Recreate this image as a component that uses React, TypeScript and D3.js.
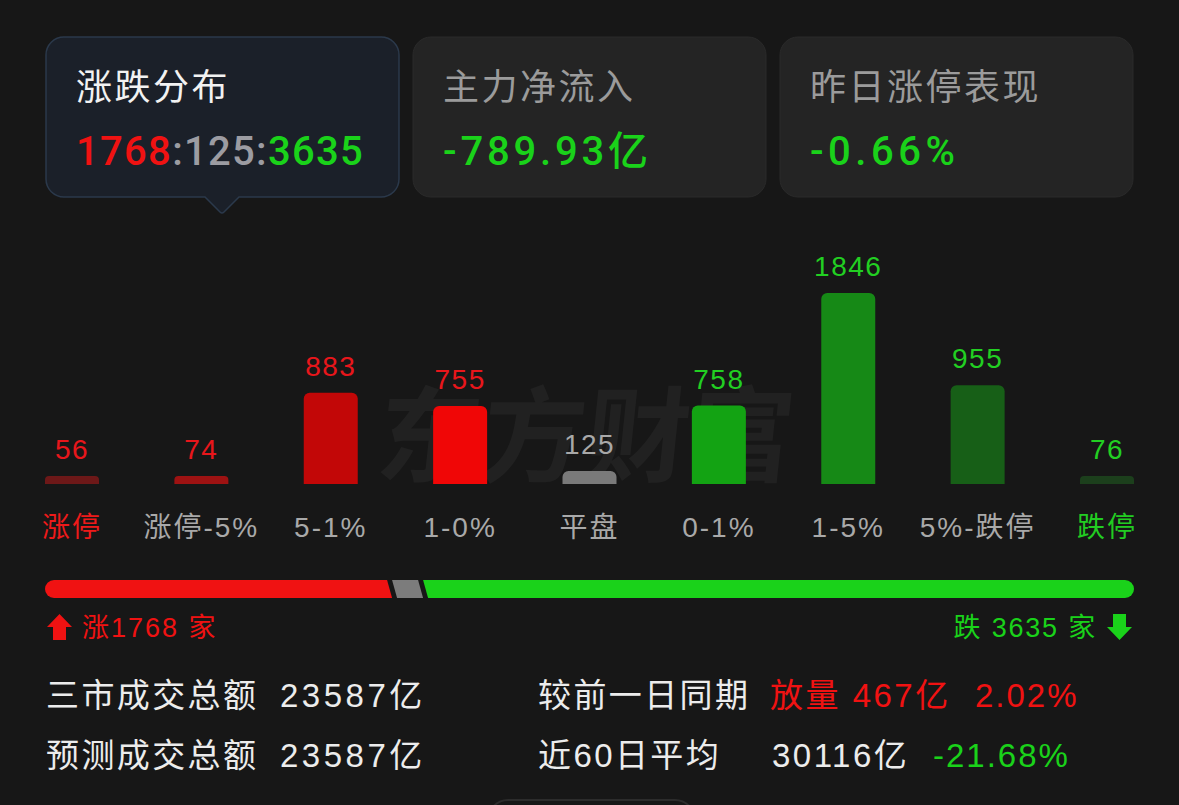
import React from "react";
import * as d3 from "d3";

// ---------- data ----------
const categories = ["涨停", "涨停-5%", "5-1%", "1-0%", "平盘", "0-1%", "1-5%", "5%-跌停", "跌停"];
const counts = [56, 74, 883, 755, 125, 758, 1846, 955, 76];
const barColors = ["#6d1818", "#9e1212", "#c20707", "#f00606", "#7a7a7a", "#13a313", "#168916", "#175f17", "#1c3f1c"];
const valueColors = ["#e8161b", "#e8161b", "#e8161b", "#e8161b", "#a8a8a8", "#22cf22", "#22cf22", "#22cf22", "#22cf22"];
const labelColors = ["#ee1a1a", "#a9a9a9", "#a9a9a9", "#a9a9a9", "#a9a9a9", "#a9a9a9", "#a9a9a9", "#a9a9a9", "#22cc22"];

const cardTitles = ["涨跌分布", "主力净流入", "昨日涨停表现"];
const breadthCounts = [1768, 125, 3635]; // up : flat : down
const netInflow = "-789.93亿";
const yesterdayLimitUp = "-0.66%";

const summaryLeftLabels = ["三市成交总额", "预测成交总额"];
const summaryLeftValues = ["23587亿", "23587亿"];
const summaryRightLabels = ["较前一日同期", "近60日平均"];
const summaryRightValues = ["放量 467亿", "30116亿"];
const summaryRightPcts = ["2.02%", "-21.68%"];

const RED = "#f01212";
const GREEN = "#1ad21a";
const FONT = "'Liberation Sans', Arial, 'Noto Sans CJK SC', sans-serif";
const NUMFONT = "Roboto, 'Liberation Sans', Arial, 'Noto Sans CJK SC', sans-serif";

function topRoundedBar(x: number, y: number, w: number, h: number, r: number) {
  const rr = Math.min(r, h / 2, w / 2);
  return `M${x},${y + h} V${y + rr} A${rr},${rr} 0 0 1 ${x + rr},${y} H${x + w - rr} A${rr},${rr} 0 0 1 ${x + w},${y + rr} V${y + h} Z`;
}

export default function App() {
  const W = 1179, H = 805;
  const baseline = 484;

  const x = d3.scalePoint<string>().domain(categories).range([72, 1107]);
  const maxV = d3.max(counts) as number;
  const y = d3.scaleLinear().domain([0, maxV]).range([baseline, baseline - 191]);
  const barW = 54;

  // breadth bar
  const bx0 = 45, bx1 = 1134, by0 = 580, bh = 18, gap = 5, s = 2.5, br = 9;
  const total = d3.sum(breadthCounts);
  const avail = bx1 - bx0 - 2 * gap;
  const wScale = d3.scaleLinear().domain([0, total]).range([0, avail]);
  const wFlat = Math.max(wScale(breadthCounts[1]), 26);
  const rest = avail - wFlat;
  const wUp = rest * breadthCounts[0] / (breadthCounts[0] + breadthCounts[2]);
  const upEnd = bx0 + wUp;
  const flatStart = upEnd + gap;
  const flatEnd = flatStart + wFlat;
  const downStart = flatEnd + gap;
  const by1 = by0 + bh;

  const redPath = `M${bx0 + br},${by0} L${upEnd - s},${by0} L${upEnd + s},${by1} L${bx0 + br},${by1} A${br},${br} 0 0 1 ${bx0 + br},${by0} Z`;
  const grayPath = `M${flatStart - s},${by0} L${flatEnd - s},${by0} L${flatEnd + s},${by1} L${flatStart + s},${by1} Z`;
  const greenPath = `M${downStart - s},${by0} L${bx1 - br},${by0} A${br},${br} 0 0 1 ${bx1 - br},${by1} L${downStart + s},${by1} Z`;

  // card 1 with pointer
  const cx = 46, cy = 37, cw = 353, ch = 160, cr = 18, px = 222;
  const card1 = `M${cx + cr},${cy} H${cx + cw - cr} A${cr},${cr} 0 0 1 ${cx + cw},${cy + cr} V${cy + ch - cr} A${cr},${cr} 0 0 1 ${cx + cw - cr},${cy + ch} H${px + 17} L${px + 2},${cy + ch + 15} Q${px},${cy + ch + 17} ${px - 2},${cy + ch + 15} L${px - 17},${cy + ch} H${cx + cr} A${cr},${cr} 0 0 1 ${cx},${cy + ch - cr} V${cy + cr} A${cr},${cr} 0 0 1 ${cx + cr},${cy} Z`;

  const cardXs = [46, 413, 780];

  return (
    <svg width={W} height={H} style={{ position: "fixed", left: 0, top: 0, display: "block" }} fontFamily={FONT}>
      <rect x={0} y={0} width={W} height={H} fill="#171717" />

      {/* cards */}
      <path d={card1} fill="#1b2029" stroke="#2b394b" strokeWidth={1.5} />
      <rect x={cardXs[1]} y={cy} width={cw} height={ch} rx={cr} fill="#242424" stroke="#2a2a2a" />
      <rect x={cardXs[2]} y={cy} width={cw} height={ch} rx={cr} fill="#242424" stroke="#2a2a2a" />

      {cardTitles.map((t, i) => (
        <text key={t} x={cardXs[i] + 30} y={100} fontSize={36} letterSpacing={2.5} fill={i === 0 ? "#f2f2f2" : "#9b9b9b"}>{t}</text>
      ))}
      <text x={76} y={165} fontSize={40} fontWeight={500} letterSpacing={1.3} fontFamily={NUMFONT}>
        <tspan fill={RED}>{breadthCounts[0]}</tspan>
        <tspan fill="#9c9ca2">:</tspan>
        <tspan fill="#9c9ca2">{breadthCounts[1]}</tspan>
        <tspan fill="#9c9ca2">:</tspan>
        <tspan fill={GREEN}>{breadthCounts[2]}</tspan>
      </text>
      <text x={443} y={165} fontSize={40} fontWeight={500} letterSpacing={3.8} fill={GREEN} fontFamily={NUMFONT}>{netInflow}</text>
      <text x={810} y={165} fontSize={40} fontWeight={500} letterSpacing={4.5} fill={GREEN} fontFamily={NUMFONT}>{yesterdayLimitUp}</text>

      {/* watermark */}
      <text x={590} y={474} textAnchor="middle" fontSize={104} fontWeight={700} fill="#ffffff" fillOpacity={0.045}
        fontFamily="'Noto Sans CJK SC', sans-serif" transform="skewX(-6) translate(42,0)">东方财富</text>

      {/* bars */}
      {categories.map((c, i) => {
        const h = Math.max(baseline - y(counts[i]), 8);
        const top = baseline - h;
        const cxb = x(c) as number;
        return (
          <g key={c}>
            <path d={topRoundedBar(cxb - barW / 2, top, barW, h, 6)} fill={barColors[i]} />
            <text x={cxb} y={top - 17} textAnchor="middle" fontSize={28} letterSpacing={1.5} fill={valueColors[i]}>{counts[i]}</text>
            <text x={cxb} y={537} textAnchor="middle" fontSize={28} letterSpacing={2} fill={labelColors[i]}>{c}</text>
          </g>
        );
      })}

      {/* breadth bar */}
      <path d={redPath} fill={RED} />
      <path d={grayPath} fill="#7c7c7c" />
      <path d={greenPath} fill={GREEN} />

      {/* up / down labels */}
      <path d="M47,627 L59.5,614 L72,627 L66,627 L66,640 L53,640 L53,627 Z" fill={RED} />
      <text x={82} y={637} fontSize={27} letterSpacing={2} fill={RED}>{`涨${breadthCounts[0]} 家`}</text>
      <text x={1097} y={637} textAnchor="end" fontSize={27} letterSpacing={1.8} fill={GREEN}>{`跌 ${breadthCounts[2]} 家`}</text>
      <path d="M1107,627 L1119.5,640 L1132,627 L1126,627 L1126,614 L1113,614 L1113,627 Z" fill={GREEN} />

      {/* summary */}
      {summaryLeftLabels.map((l, i) => (
        <g key={l}>
          <text x={46} y={707 + i * 60} fontSize={33} letterSpacing={2.4} fill="#ececec">{l}</text>
          <text x={280} y={707 + i * 60} fontSize={33} letterSpacing={3.5} fill="#ececec">{summaryLeftValues[i]}</text>
        </g>
      ))}
      {summaryRightLabels.map((l, i) => (
        <g key={l}>
          <text x={538} y={707 + i * 60} fontSize={33} letterSpacing={2.4} fill="#ececec">{l}</text>
          <text x={i === 0 ? 770 : 772} y={707 + i * 60} fontSize={33} letterSpacing={2.5} fill={i === 0 ? RED : "#ececec"}>{summaryRightValues[i]}</text>
          <text x={i === 0 ? 975 : 933} y={707 + i * 60} fontSize={33} letterSpacing={2} fill={i === 0 ? RED : GREEN}>{summaryRightPcts[i]}</text>
        </g>
      ))}

      {/* bottom handle outline */}
      <rect x={488} y={800} width={207} height={40} rx={20} fill="none" stroke="#2c2c2c" strokeWidth={2} />
    </svg>
  );
}
